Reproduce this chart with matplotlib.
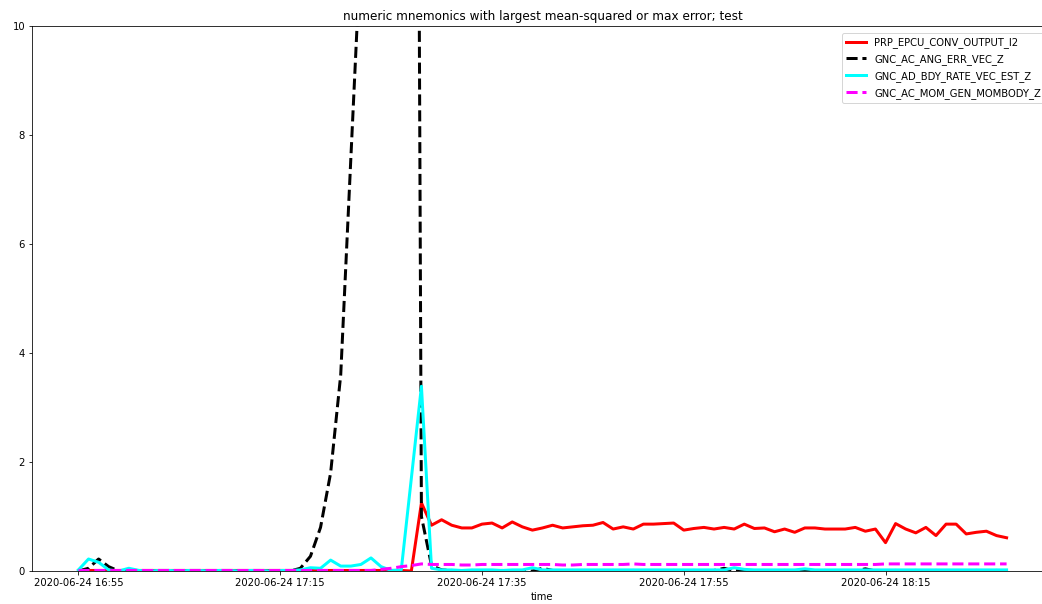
import numpy as np
import pandas as pd
import matplotlib
matplotlib.use("Agg")
from matplotlib import pyplot as plt
import matplotlib.dates as mdates

# one sample per minute, 16:55 .. 18:27
times = pd.date_range("2020-06-24 16:55", periods=93, freq="1min")

prp_epcu = [0.01]*33 + [0.0, 1.25, 0.84, 0.94, 0.84, 0.79, 0.79, 0.86, 0.88, 0.79, 0.9,
    0.81, 0.75, 0.79, 0.84, 0.79, 0.81, 0.83, 0.84, 0.89, 0.77, 0.81, 0.77, 0.86, 0.86,
    0.87, 0.88, 0.75, 0.78, 0.8, 0.77, 0.8, 0.77, 0.86, 0.78, 0.79, 0.72, 0.77, 0.71,
    0.79, 0.79, 0.77, 0.77, 0.77, 0.8, 0.73, 0.77, 0.52, 0.87, 0.77, 0.7, 0.8, 0.65,
    0.86, 0.86, 0.68, 0.71, 0.73, 0.65, 0.61]

ang_err = [0.0, 0.05, 0.22, 0.08] + [0.0]*18 + [0.05, 0.27, 0.8, 1.8, 3.6, 7.56,
    11.5, 20.0, 30.0, 38.0, 42.0, 44.0, 1.0, 0.1, 0.02, 0.01, 0.0, 0.01, 0.0, 0.0,
    0.01, 0.0, 0.0, 0.0, 0.05, 0.01] + [0.0, 0.01]*8 + [0.05, 0.0] + [0.01, 0.0]*6 + \
    [0.04, 0.0] + [0.0, 0.01]*6 + [0.0]

bdy_rate = [0.02, 0.22, 0.16, 0.02, 0.0, 0.05, 0.01, 0.0, 0.01, 0.01, 0.0, 0.01, 0.01,
    0.0, 0.01, 0.01, 0.0, 0.01, 0.01, 0.0, 0.01, 0.01, 0.02, 0.06, 0.05, 0.2, 0.09,
    0.09, 0.12, 0.24, 0.08, 0.01, 0.02, 1.7, 3.39, 0.05, 0.02, 0.02, 0.01, 0.02, 0.02,
    0.02, 0.01, 0.02, 0.02, 0.06, 0.02, 0.02] + [0.02]*17 + [0.06, 0.03] + [0.02]*5 + \
    [0.04] + [0.02]*20

mom_gen = [0.01]*30 + [0.03, 0.05, 0.08, 0.1, 0.13, 0.12, 0.12, 0.12, 0.11, 0.11,
    0.12, 0.12, 0.12, 0.12, 0.12, 0.12, 0.12, 0.12, 0.11, 0.11, 0.12, 0.12, 0.12, 0.12,
    0.12, 0.13, 0.12, 0.12, 0.12, 0.12] + [0.12]*20 + [0.13]*13

fig = plt.figure(figsize=(1042/72, 604/72), dpi=72)
ax = fig.add_axes([32/1042, 33/604, 1021/1042, 545/604])

ax.plot(times, prp_epcu, c="red", lw=3, label="PRP_EPCU_CONV_OUTPUT_I2")
ax.plot(times, ang_err, c="black", lw=3, ls="--", label="GNC_AC_ANG_ERR_VEC_Z")
ax.plot(times, bdy_rate, c="cyan", lw=3, label="GNC_AD_BDY_RATE_VEC_EST_Z")
ax.plot(times, mom_gen, c="magenta", lw=3, ls="--", label="GNC_AC_MOM_GEN_MOMBODY_Z")

ax.set_ylim(0, 10)
ax.xaxis.set_major_locator(mdates.MinuteLocator(byminute=[15, 35, 55]))
ax.xaxis.set_major_formatter(mdates.DateFormatter("%Y-%m-%d %H:%M"))
ax.set_xlabel("time", fontsize=10, labelpad=4)
ax.set_title("numeric mnemonics with largest mean-squared or max error; test", fontsize=12)
ax.tick_params(labelsize=10)
ax.legend(loc="upper right", fontsize=10, borderaxespad=0, labelspacing=0.6,
          bbox_to_anchor=(1 - 8/1021, 1 - 7/545))

fig.savefig("out.png", dpi=72)
